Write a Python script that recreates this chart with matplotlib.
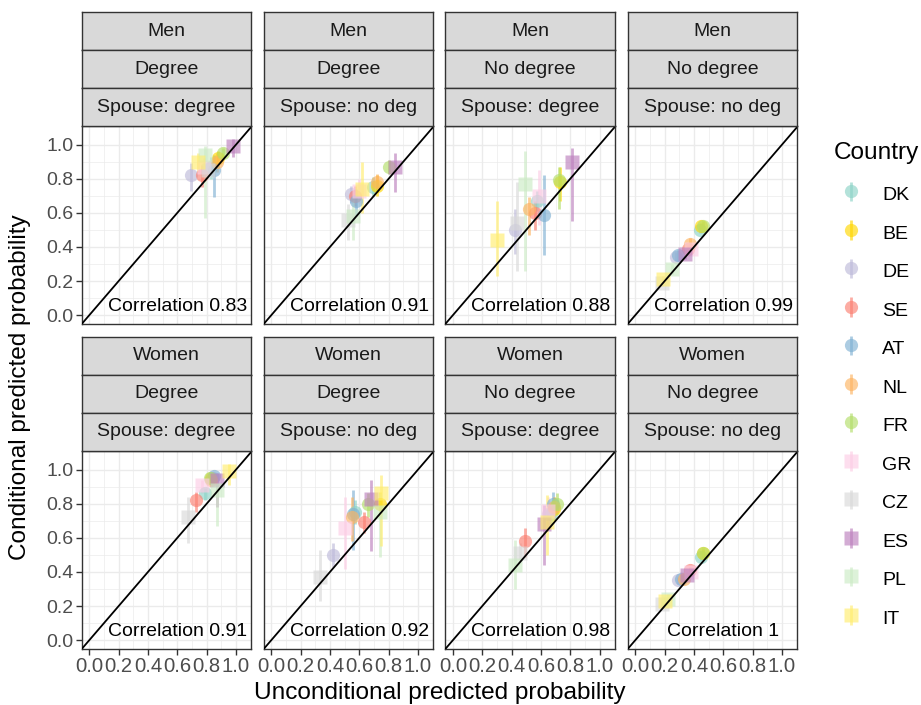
import matplotlib
matplotlib.use("Agg")
import matplotlib.pyplot as plt
import numpy as np

plt.rcParams["font.family"] = ["Liberation Sans", "DejaVu Sans"]

# ---- data ----
COUNTRIES = ["DK", "BE", "DE", "SE", "AT", "NL", "FR", "GR", "CZ", "ES", "PL", "IT"]
COLORS = ["#8DD3C7", "#FFD700", "#BEBADA", "#FB8072", "#80B1D3", "#FDB462",
          "#B3DE69", "#FCCDE5", "#D9D9D9", "#BC80BD", "#CCEBC5", "#FFED6F"]
MARKERS = ["o"] * 7 + ["s"] * 5

SEX = ["Men"] * 4 + ["Women"] * 4
DEGREE = ["Degree", "Degree", "No degree", "No degree"] * 2
SPOUSE = ["Spouse: degree", "Spouse: no deg"] * 4
CORR = ["0.83", "0.91", "0.88", "0.99", "0.91", "0.92", "0.98", "1"]

# order of values follows COUNTRIES
# Men / Degree / Spouse: degree
P1_X = [.83, .88, .69, .77, .85, .87, .91, .78, .81, .98, .79, .74]
P1_Y = [.87, .92, .82, .82, .85, .90, .95, .87, .85, .99, .94, .90]
P1_LO = [.80, .86, .73, .75, .69, .84, .92, .82, .80, .93, .57, .84]
P1_HI = [.93, .96, .89, .88, .94, .95, .98, .92, .90, 1.03, .99, .95]
# Men / Degree / Spouse: no deg
P2_X = [.69, .72, .54, .57, .58, .72, .80, .60, .52, .84, .56, .62]
P2_Y = [.75, .76, .71, .70, .67, .78, .87, .73, .56, .87, .58, .74]
P2_LO = [.70, .70, .66, .64, .58, .72, .83, .66, .44, .72, .44, .60]
P2_HI = [.81, .82, .76, .76, .74, .83, .91, .80, .65, .95, .72, .90]
# Men / No degree / Spouse: degree
P3_X = [.57, .73, .42, .56, .62, .52, .72, .59, .44, .81, .49, .30]
P3_Y = [.67, .78, .50, .60, .59, .62, .79, .70, .54, .90, .77, .44]
P3_LO = [.61, .67, .36, .50, .35, .47, .62, .53, .26, .55, .26, .23]
P3_HI = [.73, .87, .62, .67, .82, .69, .87, .85, .78, .98, .96, .67]
# Men / No degree / Spouse: no deg
P4_X = [.44, .45, .28, .36, .29, .37, .46, .38, .18, .34, .25, .19]
P4_Y = [.50, .52, .34, .39, .35, .42, .52, .39, .19, .36, .27, .21]
P4_LO = [.48, .50, .32, .37, .32, .39, .49, .36, .17, .33, .24, .19]
P4_HI = [.53, .54, .37, .41, .38, .45, .55, .42, .21, .39, .30, .23]
# Women / Degree / Spouse: degree
P5_X = [.79, .83, .84, .73, .85, .83, .82, .77, .67, .87, .87, .95]
P5_Y = [.86, .95, .95, .82, .96, .94, .95, .91, .72, .94, .88, .99]
P5_LO = [.82, .92, .92, .75, .93, .91, .92, .86, .57, .78, .67, .91]
P5_HI = [.89, .97, .98, .87, .98, .97, .97, .94, .84, .98, .93, 1.03]
# Women / Degree / Spouse: no deg
P6_X = [.57, .74, .42, .63, .56, .55, .66, .50, .33, .68, .74, .75]
P6_Y = [.75, .80, .50, .69, .74, .72, .80, .66, .37, .83, .75, .86]
P6_LO = [.68, .72, .43, .63, .53, .58, .72, .42, .23, .52, .49, .55]
P6_HI = [.82, .87, .57, .75, .88, .84, .86, .84, .53, .94, .86, .97]
# Women / No degree / Spouse: degree
P7_X = [.67, .69, .65, .49, .68, .69, .71, .65, .46, .62, .42, .64]
P7_Y = [.74, .77, .74, .58, .80, .78, .80, .76, .51, .68, .44, .69]
P7_LO = [.68, .70, .67, .49, .74, .72, .74, .68, .47, .44, .30, .50]
P7_HI = [.80, .84, .80, .66, .87, .84, .86, .84, .57, .79, .59, .85]
# Women / No degree / Spouse: no deg
P8_X = [.45, .46, .29, .37, .31, .33, .46, .38, .18, .35, .22, .20]
P8_Y = [.49, .51, .35, .41, .36, .36, .51, .40, .21, .38, .24, .23]
P8_LO = [.47, .49, .33, .39, .34, .34, .49, .37, .19, .35, .22, .21]
P8_HI = [.52, .53, .37, .43, .38, .39, .54, .43, .23, .40, .27, .25]

PANELS = [
    (P1_X, P1_Y, P1_LO, P1_HI), (P2_X, P2_Y, P2_LO, P2_HI),
    (P3_X, P3_Y, P3_LO, P3_HI), (P4_X, P4_Y, P4_LO, P4_HI),
    (P5_X, P5_Y, P5_LO, P5_HI), (P6_X, P6_Y, P6_LO, P6_HI),
    (P7_X, P7_Y, P7_LO, P7_HI), (P8_X, P8_Y, P8_LO, P8_HI),
]

TICKS = [0.0, 0.2, 0.4, 0.6, 0.8, 1.0]
MINOR = [0.1, 0.3, 0.5, 0.7, 0.9]

# ---- layout (pixels) ----
W, H = 921, 705
COL_LEFT = [81.7, 263.7, 445.3, 627.7]
PW, PH = 169.3, 198
ROW_TOP = [126, 451]
STRIP_H = 38
BORDER = "#333333"


def main():
    fig = plt.figure(figsize=(W / 100, H / 100), dpi=100)
    handles = []

    for i, (xs, ys, los, his) in enumerate(PANELS):
        r, c = divmod(i, 4)
        ax = fig.add_axes([COL_LEFT[c] / W, 1 - (ROW_TOP[r] + PH) / H, PW / W, PH / H])
        ax.set_xlim(-0.052, 1.102)
        ax.set_ylim(-0.052, 1.109)

        ax.set_xticks(TICKS)
        ax.set_yticks(TICKS)
        ax.set_xticks(MINOR, minor=True)
        ax.set_yticks(MINOR, minor=True)
        ax.set_xticklabels([f"{t:.1f}" for t in TICKS])
        ax.set_yticklabels([f"{t:.1f}" for t in TICKS])
        ax.grid(True, which="major", color="#EBEBEB", linewidth=1.0)
        ax.grid(True, which="minor", color="#EBEBEB", linewidth=0.5)
        ax.set_axisbelow(True)
        ax.tick_params(which="minor", length=0)
        ax.tick_params(which="major", length=4, width=1, color=BORDER,
                       labelcolor="#4D4D4D", labelsize=14, pad=2)
        ax.tick_params(axis="x", labelsize=14.6)
        if r == 0:
            ax.tick_params(axis="x", length=0, labelbottom=False)
        if c > 0:
            ax.tick_params(axis="y", length=0, labelleft=False)
        for sp in ax.spines.values():
            sp.set_color(BORDER)
            sp.set_linewidth(1.0)

        for k, name in enumerate(COUNTRIES):
            y = ys[k]
            eb = ax.errorbar([xs[k]], [y], yerr=[[y - los[k]], [his[k] - y]],
                             fmt=MARKERS[k], color=COLORS[k], mec="none",
                             ms=9.5 if MARKERS[k] == "o" else 10,
                             elinewidth=2.0, capsize=0, alpha=0.65, label=name)
            if i == 0:
                handles.append(eb)

        ax.axline((0, 0), (1, 1), color="black", linewidth=1.3, zorder=4)
        ax.text(0.6, 0.05, f"Correlation {CORR[i]}", ha="center", va="center",
                fontsize=14, color="black", zorder=5)

        # facet strips
        for k, txt in enumerate([SEX[i], DEGREE[i], SPOUSE[i]]):
            top = ROW_TOP[r] - STRIP_H * (3 - k)
            sax = fig.add_axes([COL_LEFT[c] / W, 1 - (top + STRIP_H) / H, PW / W, STRIP_H / H])
            sax.set_facecolor("#D9D9D9")
            sax.set_xticks([])
            sax.set_yticks([])
            for sp in sax.spines.values():
                sp.set_color(BORDER)
                sp.set_linewidth(1.0)
            sax.text(0.5, 0.5, txt, ha="center", va="center", fontsize=14,
                     color="#1A1A1A", transform=sax.transAxes)

    fig.text(20 / W, 1 - 387.5 / H, "Conditional predicted probability",
             rotation=90, ha="center", va="center", fontsize=17.6)
    fig.text(439.4 / W, 1 - 693 / H, "Unconditional predicted probability",
             ha="center", va="center", fontsize=17.6)

    fig.text(834 / W, 1 - 153 / H, "Country", ha="left", va="center",
             fontsize=17.6)
    fig.legend(handles, COUNTRIES, loc="upper left",
               bbox_to_anchor=(824 / W, 1 - 165 / H), frameon=False,
               fontsize=14, labelspacing=0.825, handlelength=1.0,
               handleheight=1.4, handletextpad=1.1)

    fig.savefig("out.png", dpi=100)
    plt.close(fig)


if __name__ == "__main__":
    main()
